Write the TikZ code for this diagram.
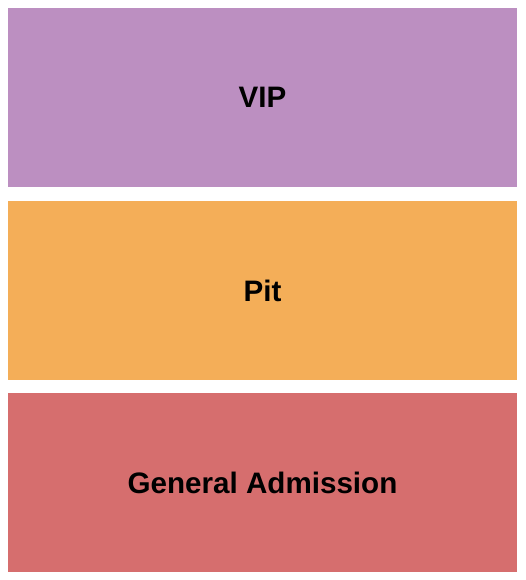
\documentclass[tikz,border=0pt]{standalone}
\usepackage{fontspec}
\setmainfont{Liberation Sans}
\definecolor{vipcolor}{RGB}{188,143,193}
\definecolor{pitcolor}{RGB}{244,174,88}
\definecolor{gacolor}{RGB}{214,110,110}
\begin{document}
\begin{tikzpicture}[x=1pt,y=-1pt]
        % Define styles
        \tikzset{
            section/.style={rectangle, draw=none, inner sep=0pt, minimum width=509pt, minimum height=179pt, font=\fontsize{29.6}{35}\selectfont\bfseries}
        }

        % Canvas
        \useasboundingbox (0,0) rectangle (525,580);

        % Sections
        \node[section, fill=vipcolor] (vip_node) at (262.5,97.5) {VIP};
        \node[section, fill=pitcolor] (pit_node) at (262.5,290.5) {Pit};
        \node[section, fill=gacolor] (ga_node) at (262.5,482.5) {General Admission};
    \end{tikzpicture}
\end{document}
